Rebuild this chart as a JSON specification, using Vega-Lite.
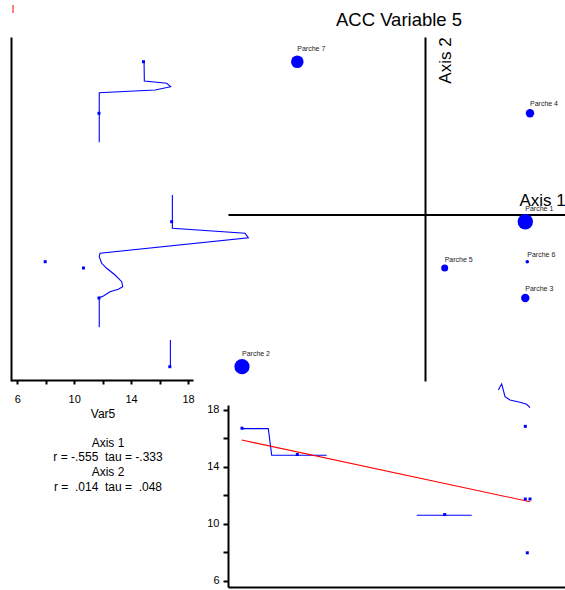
{
  "$schema": "https://vega.github.io/schema/vega-lite/v6.json",
  "width": 565,
  "height": 590,
  "autosize": {"type": "none"},
  "padding": 0,
  "background": "white",
  "config": {
    "view": {"stroke": null},
    "font": "Liberation Sans",
    "axis": {"domainColor": "black", "tickColor": "black", "labelColor": "black", "titleColor": "black", "grid": false, "labelFont": "Liberation Sans", "titleFont": "Liberation Sans"}
  },
  "title": {"text": "ACC Variable 5", "anchor": "middle", "frame": "group", "offset": 0, "dx": 116.5, "dy": 44, "fontSize": 18.5, "fontWeight": "normal", "baseline": "alphabetic", "color": "black", "font": "Liberation Sans"},
  "datasets": {
    "parches": [
      {"name": "Parche 1", "a1": 1.003, "a2": -0.072, "v": 16.85},
      {"name": "Parche 2", "a1": -1.83, "a2": -1.522, "v": 16.72},
      {"name": "Parche 3", "a1": 1.003, "a2": -0.835, "v": 11.74},
      {"name": "Parche 4", "a1": 1.05, "a2": 1.012, "v": 11.74},
      {"name": "Parche 5", "a1": 0.197, "a2": -0.535, "v": 10.65},
      {"name": "Parche 6", "a1": 1.023, "a2": -0.472, "v": 7.96},
      {"name": "Parche 7", "a1": -1.277, "a2": 1.528, "v": 14.87}
    ],
    "leftcurve": [
      {"seg": "A", "i": 1, "v": 14.91, "a2": 1.528},
      {"seg": "A", "i": 2, "v": 14.93, "a2": 1.335},
      {"seg": "A", "i": 3, "v": 16.5, "a2": 1.312},
      {"seg": "A", "i": 4, "v": 16.78, "a2": 1.278},
      {"seg": "A", "i": 5, "v": 15.68, "a2": 1.245},
      {"seg": "A", "i": 6, "v": 11.76, "a2": 1.218},
      {"seg": "A", "i": 7, "v": 11.76, "a2": 0.722},
      {"seg": "B", "i": 1, "v": 16.9, "a2": 0.195},
      {"seg": "B", "i": 2, "v": 16.9, "a2": -0.138},
      {"seg": "B", "i": 3, "v": 22.01, "a2": -0.188},
      {"seg": "B", "i": 4, "v": 22.24, "a2": -0.232},
      {"seg": "B", "i": 5, "v": 11.81, "a2": -0.388},
      {"seg": "B", "i": 6, "v": 11.76, "a2": -0.422},
      {"seg": "B", "i": 7, "v": 11.93, "a2": -0.488},
      {"seg": "B", "i": 8, "v": 12.28, "a2": -0.538},
      {"seg": "B", "i": 9, "v": 12.87, "a2": -0.605},
      {"seg": "B", "i": 10, "v": 13.34, "a2": -0.672},
      {"seg": "B", "i": 11, "v": 13.41, "a2": -0.722},
      {"seg": "B", "i": 12, "v": 13.1, "a2": -0.748},
      {"seg": "B", "i": 13, "v": 12.52, "a2": -0.772},
      {"seg": "B", "i": 14, "v": 12.05, "a2": -0.815},
      {"seg": "B", "i": 15, "v": 11.76, "a2": -0.832},
      {"seg": "B", "i": 16, "v": 11.76, "a2": -1.128},
      {"seg": "C", "i": 1, "v": 16.76, "a2": -1.255},
      {"seg": "C", "i": 2, "v": 16.76, "a2": -1.522}
    ],
    "bottomcurve": [
      {"seg": "A", "i": 1, "a1": -1.833, "v": 16.69},
      {"seg": "A", "i": 2, "a1": -1.567, "v": 16.69},
      {"seg": "A", "i": 3, "a1": -1.533, "v": 14.82},
      {"seg": "A", "i": 4, "a1": -0.983, "v": 14.82},
      {"seg": "B", "i": 1, "a1": -0.083, "v": 10.6},
      {"seg": "B", "i": 2, "a1": 0.467, "v": 10.6},
      {"seg": "C", "i": 1, "a1": 0.733, "v": 19.41},
      {"seg": "C", "i": 2, "a1": 0.767, "v": 19.83},
      {"seg": "C", "i": 3, "a1": 0.8, "v": 18.94},
      {"seg": "C", "i": 4, "a1": 0.85, "v": 18.7},
      {"seg": "C", "i": 5, "a1": 0.95, "v": 18.54},
      {"seg": "C", "i": 6, "a1": 1.017, "v": 18.4},
      {"seg": "C", "i": 7, "a1": 1.05, "v": 18.16}
    ],
    "fit": [
      {"a1": -1.833, "v": 15.89},
      {"a1": 1.05, "v": 11.55}
    ],
    "redtick": [
      {"v": 5.7, "a2": 2.095, "a2b": 2.015}
    ]
  },
  "layer": [
    {
      "layer": [
        {
          "data": {"name": "parches"},
          "mark": {"type": "circle", "color": "#0000ff", "opacity": 1},
          "encoding": {
            "x": {"field": "a1", "type": "quantitative",
              "scale": {"domain": [-1.97, 1.4], "range": [228, 565], "nice": false, "zero": false},
              "axis": {"orient": "bottom", "offset": -375.5, "domainWidth": 2, "ticks": false, "labels": false, "title": "Axis 1", "titleX": 519, "titleY": -9.5, "titleAlign": "left", "titleBaseline": "alphabetic", "titleFontSize": 17, "titleFontWeight": "normal"}},
            "y": {"field": "a2", "type": "quantitative",
              "scale": {"domain": [-1.665, 1.775], "range": [381, 37], "nice": false, "zero": false},
              "axis": {"orient": "left", "offset": -425, "domainWidth": 2, "ticks": false, "labels": false, "title": "Axis 2", "titleAngle": -90, "titleX": 25, "titleY": 60, "titleAlign": "center", "titleBaseline": "alphabetic", "titleFontSize": 17, "titleFontWeight": "normal"}},
            "size": {"field": "v", "type": "quantitative", "scale": {"type": "pow", "exponent": 3, "domain": [7.95, 16.85], "range": [12.6, 236]}, "legend": null}
          }
        },
        {
          "data": {"name": "parches"},
          "transform": [{"filter": "datum.v >= 14"}],
          "mark": {"type": "text", "align": "left", "baseline": "alphabetic", "fontSize": 7, "color": "#222222", "dy": -10.5},
          "encoding": {
            "x": {"field": "a1", "type": "quantitative"},
            "y": {"field": "a2", "type": "quantitative"},
            "text": {"field": "name"}
          }
        },
        {
          "data": {"name": "parches"},
          "transform": [{"filter": "datum.v >= 11 && datum.v < 14"}],
          "mark": {"type": "text", "align": "left", "baseline": "alphabetic", "fontSize": 7, "color": "#222222", "dy": -7.5},
          "encoding": {
            "x": {"field": "a1", "type": "quantitative"},
            "y": {"field": "a2", "type": "quantitative"},
            "text": {"field": "name"}
          }
        },
        {
          "data": {"name": "parches"},
          "transform": [{"filter": "datum.v >= 10 && datum.v < 11"}],
          "mark": {"type": "text", "align": "left", "baseline": "alphabetic", "fontSize": 7, "color": "#222222", "dy": -6.3},
          "encoding": {
            "x": {"field": "a1", "type": "quantitative"},
            "y": {"field": "a2", "type": "quantitative"},
            "text": {"field": "name"}
          }
        },
        {
          "data": {"name": "parches"},
          "transform": [{"filter": "datum.v < 10"}],
          "mark": {"type": "text", "align": "left", "baseline": "alphabetic", "fontSize": 7, "color": "#222222", "dy": -5},
          "encoding": {
            "x": {"field": "a1", "type": "quantitative"},
            "y": {"field": "a2", "type": "quantitative"},
            "text": {"field": "name"}
          }
        }
      ]
    },
    {
      "layer": [
        {
          "data": {"name": "leftcurve"},
          "mark": {"type": "line", "color": "#0000ff", "strokeWidth": 1.1},
          "encoding": {
            "x": {"field": "v", "type": "quantitative",
              "scale": {"domain": [5.557, 18.35], "range": [11, 193], "nice": false, "zero": false},
              "axis": {"orient": "bottom", "offset": -210, "domainWidth": 2, "values": [6, 8, 10, 12, 14, 16, 18], "tickSize": 4, "tickWidth": 2, "labelExpr": "datum.value % 4 == 2 ? datum.label : ''", "labelFontSize": 11, "labelPadding": 9, "labelFlush": false, "labelOverlap": false, "title": "Var5", "titleX": 102.5, "titleY": 37, "titleAlign": "center", "titleBaseline": "alphabetic", "titleFontSize": 12, "titleFontWeight": "normal"}},
            "y": {"field": "a2", "type": "quantitative",
              "scale": {"domain": [-1.665, 1.775], "range": [381, 37], "nice": false, "zero": false},
              "axis": {"orient": "left", "offset": -11, "domainWidth": 2, "ticks": false, "labels": false, "title": ["Axis 1\u00a0\u00a0\u00a0\u00a0\u00a0\u00a0\u00a0", "r = -.555\u00a0 tau = -.333", "Axis 2\u00a0\u00a0\u00a0\u00a0\u00a0", "r =\u00a0 .014\u00a0 tau =\u00a0 .048"], "titleAngle": 0, "titleX": 96.5, "titleY": 446, "titleAlign": "center", "titleBaseline": "alphabetic", "titleLineHeight": 14.8, "titleFontSize": 12, "titleFontWeight": "normal"}},
            "detail": {"field": "seg"},
            "order": {"field": "i", "type": "quantitative"}
          }
        },
        {
          "data": {"name": "parches"},
          "mark": {"type": "square", "color": "#0000ff", "opacity": 1, "size": 9},
          "encoding": {
            "x": {"field": "v", "type": "quantitative"},
            "y": {"field": "a2", "type": "quantitative"}
          }
        },
        {
          "data": {"name": "redtick"},
          "mark": {"type": "rule", "color": "#ff0000", "strokeWidth": 1},
          "encoding": {
            "x": {"field": "v", "type": "quantitative"},
            "y": {"field": "a2", "type": "quantitative"},
            "y2": {"field": "a2b"}
          }
        }
      ]
    },
    {
      "layer": [
        {
          "data": {"name": "bottomcurve"},
          "mark": {"type": "line", "color": "#0000ff", "strokeWidth": 1.1},
          "encoding": {
            "x": {"field": "a1", "type": "quantitative",
              "scale": {"domain": [-1.97, 1.4], "range": [228, 565], "nice": false, "zero": false},
              "axis": {"orient": "bottom", "offset": -3, "domainWidth": 2, "ticks": false, "labels": false, "title": null}},
            "y": {"field": "v", "type": "quantitative",
              "scale": {"domain": [5.557, 18.351], "range": [587, 405], "nice": false, "zero": false},
              "axis": {"orient": "left", "offset": -228, "domainWidth": 2, "values": [6, 8, 10, 12, 14, 16, 18], "tickSize": 5, "tickWidth": 2, "labelExpr": "datum.value % 4 == 2 ? datum.label : ''", "labelFontSize": 11, "labelPadding": 4, "labelFlush": false, "labelOverlap": false, "title": null}},
            "detail": {"field": "seg"},
            "order": {"field": "i", "type": "quantitative"}
          }
        },
        {
          "data": {"name": "fit"},
          "mark": {"type": "line", "color": "#ff0000", "strokeWidth": 1.1},
          "encoding": {
            "x": {"field": "a1", "type": "quantitative"},
            "y": {"field": "v", "type": "quantitative"}
          }
        },
        {
          "data": {"name": "parches"},
          "mark": {"type": "square", "color": "#0000ff", "opacity": 1, "size": 9},
          "encoding": {
            "x": {"field": "a1", "type": "quantitative"},
            "y": {"field": "v", "type": "quantitative"}
          }
        }
      ]
    }
  ],
  "resolve": {"scale": {"x": "independent", "y": "independent", "size": "independent"}}
}
